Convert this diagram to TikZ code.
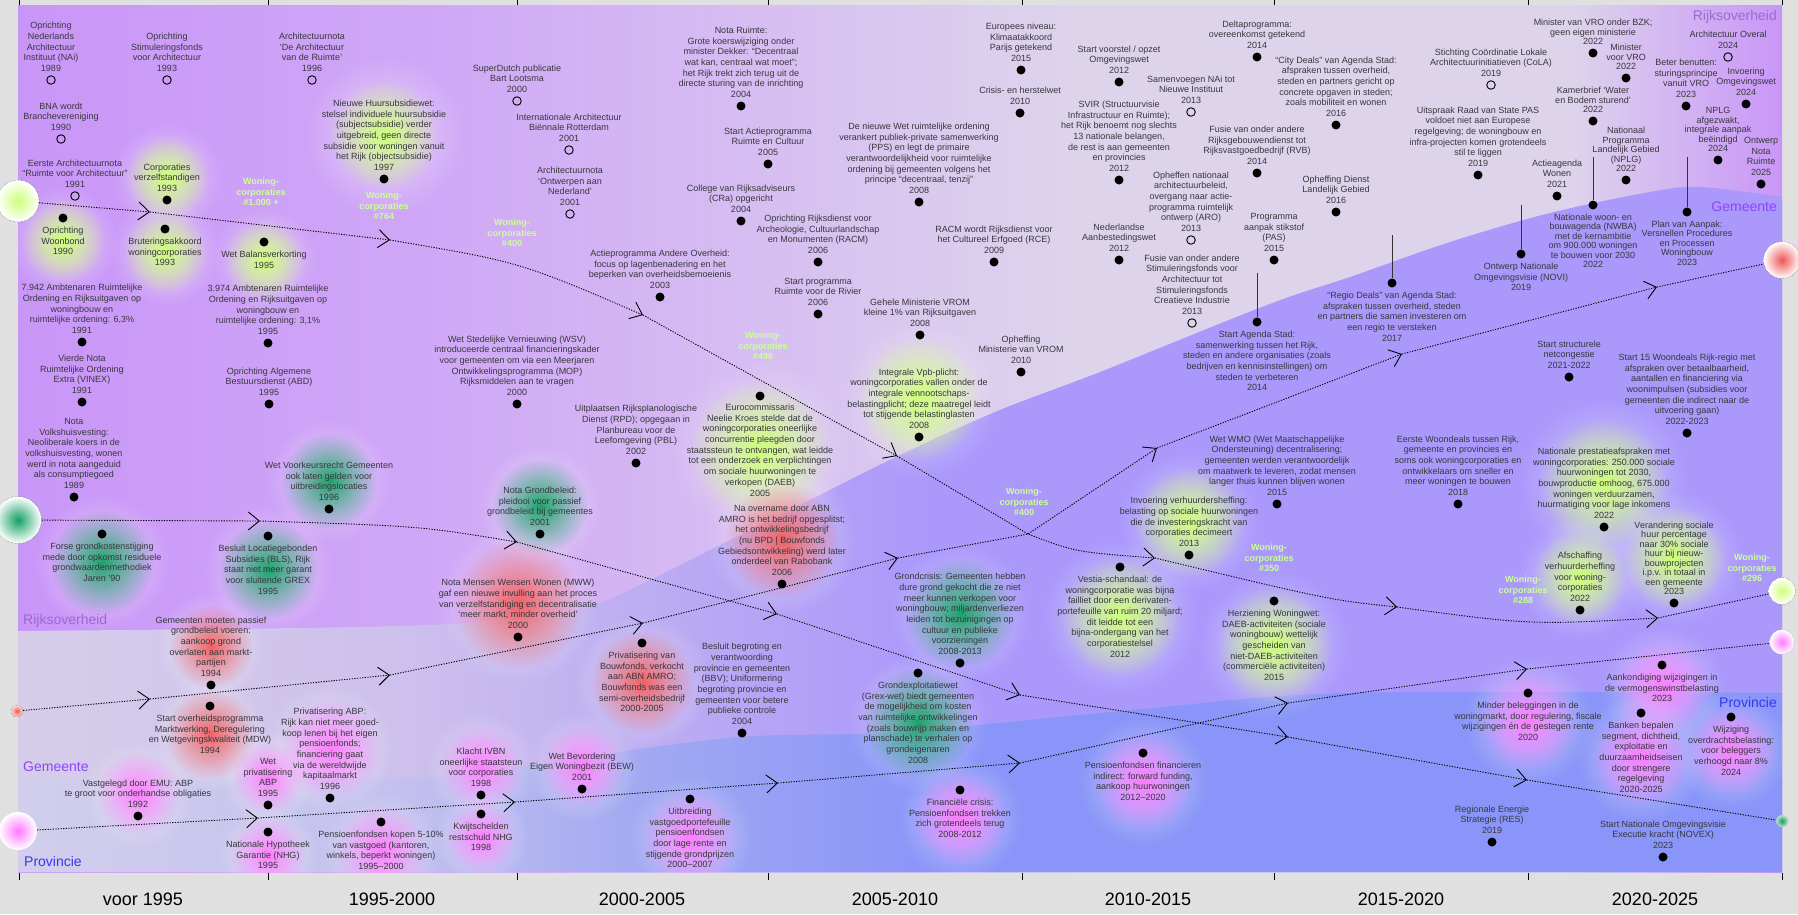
\documentclass[tikz,border=0pt]{standalone}
\usepackage{fontspec}
\setmainfont{Liberation Sans}
\usetikzlibrary{positioning,arrows.meta,fadings}

\definecolor{margin}{RGB}{224,224,224}
\definecolor{rijkA}{RGB}{201,150,248}
\definecolor{rijkM}{RGB}{208,168,247}
\definecolor{rijkB}{RGB}{221,212,236}
\definecolor{gemA}{RGB}{214,205,234}
\definecolor{gemM}{RGB}{205,192,236}
\definecolor{gemB}{RGB}{188,172,242}
\definecolor{gemC}{RGB}{170,152,251}
\definecolor{provA}{RGB}{210,206,236}
\definecolor{provM}{RGB}{195,192,238}
\definecolor{provB}{RGB}{160,168,242}
\definecolor{provC}{RGB}{137,149,248}
\definecolor{evtext}{RGB}{55,55,60}
\definecolor{wcgreen}{RGB}{204,255,153}
\definecolor{lgreen}{RGB}{205,255,120}
\definecolor{ggreen}{RGB}{20,160,100}
\definecolor{mred}{RGB}{240,85,85}
\definecolor{ppink}{RGB}{255,120,255}
\definecolor{rijkcol}{RGB}{155,105,210}
\definecolor{gemcol}{RGB}{140,70,245}
\definecolor{provcol}{RGB}{55,55,240}

\pgfdeclarehorizontalshading{rijkshade}{100bp}{color(0bp)=(rijkA); color(25bp)=(rijkA); color(37bp)=(rijkM); color(55bp)=(rijkB); color(69bp)=(rijkB); color(75bp)=(rijkA); color(100bp)=(rijkA)}
\pgfdeclarehorizontalshading{gemshade}{100bp}{color(0bp)=(gemA); color(25bp)=(gemA); color(36bp)=(gemM); color(43bp)=(gemB); color(51bp)=(gemC); color(100bp)=(gemC)}
\pgfdeclarehorizontalshading{provshade}{100bp}{color(0bp)=(provA); color(25bp)=(provA); color(36bp)=(provM); color(43bp)=(provB); color(51bp)=(provC); color(100bp)=(provC)}

\tikzfading[name=glowfade, inner color=transparent!0, outer color=transparent!100]

\pgfdeclarelayer{bg}
\pgfdeclarelayer{glows}
\pgfdeclarelayer{lanes}
\pgfsetlayers{bg,glows,lanes,main}

\tikzstyle{evbox}=[align=center, inner sep=0pt, text=evtext, font=\fontsize{9}{10.7}\selectfont, text depth=0pt]
\tikzstyle{evtight}=[evbox, font=\fontsize{9}{9.5}\selectfont]
\tikzstyle{wclabel}=[align=center, inner sep=0pt, text=wcgreen, font=\bfseries\fontsize{9}{10.7}\selectfont]
\tikzstyle{fdot}=[circle, fill=black, inner sep=0pt, minimum size=9pt]
\tikzstyle{odot}=[circle, draw=black, line width=0.9pt, inner sep=0pt, minimum size=8.5pt]
\tikzstyle{lanelab}=[inner sep=0pt, font=\fontsize{14}{14}\selectfont]
\tikzstyle{period}=[inner sep=0pt, text=black, font=\fontsize{18}{18}\selectfont]
\tikzstyle{lanecirc}=[circle, inner sep=0pt, draw=black!75, densely dotted, thin]
\tikzstyle{eline}=[line width=0.9pt, dash pattern=on 1.2pt off 1.4pt]
\tikzstyle{chev}=[-{Straight Barb[length=11pt,width=18pt,line width=0.9pt]}]
\tikzstyle{pinline}=[-, line width=0.9pt, black!80]
\tikzstyle{tick}=[-, line width=0.9pt, black]
\tikzstyle{halo}=[fill=white, fill opacity=0.5, path fading=glowfade]
\tikzstyle{glowlg}=[fill=lgreen, path fading=glowfade]
\tikzstyle{glowgr}=[fill=ggreen, fill opacity=0.95, path fading=glowfade]
\tikzstyle{glowrd}=[fill=mred, fill opacity=0.9, path fading=glowfade]
\tikzstyle{glowpk}=[fill=ppink, fill opacity=0.95, path fading=glowfade]

\begin{document}
\begin{tikzpicture}[x=1pt, y=-1pt]
\useasboundingbox (0,0) rectangle (1798,914);

\begin{pgfonlayer}{bg}
\fill[margin] (0,0) rectangle (1798,914);
\shade[shading=rijkshade] (18,5) rectangle (1782,872);
\shade[shading=gemshade] plot[smooth, tension=0.55] coordinates {(18,631) (300,628) (450,624) (530,616) (600,603) (750,530) (900,455) (1000,410) (1100,372) (1267,305) (1350,277) (1450,242) (1550,213) (1650,192) (1700,187) (1782,197)} -- (1782,872) -- (18,872) -- cycle;
\shade[shading=provshade] plot[smooth, tension=0.55] coordinates {(18,780) (400,778) (480,772) (583,757) (740,737) (900,732) (1133,710) (1350,693) (1782,693)} -- (1782,872) -- (18,872) -- cycle;
\draw[tick] (19,0) -- (19,5) (268,0) -- (268,5) (517,0) -- (517,5) (768,0) -- (768,5) (1022,0) -- (1022,5) (1274,0) -- (1274,5) (1528,0) -- (1528,5) (1782,0) -- (1782,5);
\draw[tick] (19,873) -- (19,880) (268,873) -- (268,880) (517,873) -- (517,880) (768,873) -- (768,880) (1022,873) -- (1022,880) (1274,873) -- (1274,880) (1528,873) -- (1528,880) (1782,873) -- (1782,880);
\end{pgfonlayer}

\node (PER1) [period] at (143,899) {voor 1995};
\node (PER2) [period] at (392,899) {1995-2000};
\node (PER3) [period] at (642,899) {2000-2005};
\node (PER4) [period] at (895,899) {2005-2010};
\node (PER5) [period] at (1148,899) {2010-2015};
\node (PER6) [period] at (1401,899) {2015-2020};
\node (PER7) [period] at (1655,899) {2020-2025};

\node (RIJKL) [lanelab, text=rijkcol, anchor=west] at (23,621) {Rijksoverheid};
\node (GEML) [lanelab, text=gemcol, anchor=west] at (23,767) {Gemeente};
\node (PROVL) [lanelab, text=provcol, anchor=west] at (24,861) {Provincie};
\node (RIJKR) [lanelab, text=rijkcol, anchor=east] at (1777,17) {Rijksoverheid};
\node (GEMR) [lanelab, text=gemcol, anchor=east] at (1777,207) {Gemeente};
\node (PROVR) [lanelab, text=provcol, anchor=east] at (1777,702) {Provincie};

% voor 1995 / 1995-2000
\node (NAI) [odot] at (51,80) {};
\node (NAIt) [evbox, above=3.5pt of NAI] {Oprichting\\Nederlands\\Architectuur\\Instituut (NAi)\\1989};
\node (SFA) [odot] at (167,80) {};
\node (SFAt) [evbox, above=3.5pt of SFA] {Oprichting\\Stimuleringsfonds\\voor Architectuur\\1993};
\node (AN96) [odot] at (312,80) {};
\node (AN96t) [evbox, above=3.5pt of AN96] {Architectuurnota\\‘De Architectuur\\van de Ruimte’\\1996};
\node (BNA) [odot] at (61,139) {};
\node (BNAt) [evbox, above=3.5pt of BNA] {BNA wordt\\Branchevereniging\\1990};
\node (AN91) [odot] at (75,196) {};
\node (AN91t) [evbox, above=3.5pt of AN91] {Eerste Architectuurnota\\“Ruimte voor Architectuur”\\1991};
\node (CVZ) [fdot] at (167,200) {};
\node (CVZt) [evbox, above=3.5pt of CVZ] {Corporaties\\verzelfstandigen\\1993};
\node (WBOND) [fdot] at (63,218) {};
\node (WBONDt) [evbox, below=4pt of WBOND] {Oprichting\\Woonbond\\1990};
\node (BRUT) [fdot] at (165,229) {};
\node (BRUTt) [evbox, below=4pt of BRUT] {Bruteringsakkoord\\woningcorporaties\\1993};
\node (BALANS) [fdot] at (264,242) {};
\node (BALANSt) [evbox, below=4pt of BALANS] {Wet Balansverkorting\\1995};
\node (HSW) [fdot] at (384,179) {};
\node (HSWt) [evbox, above=3.5pt of HSW] {Nieuwe Huursubsidiewet:\\stelsel individuele huursubsidie\\(subjectsubsidie) verder\\uitgebreid, geen directe\\subsidie voor woningen vanuit\\het Rijk (objectsubsidie)\\1997};
\node (AMB91) [fdot] at (82,342) {};
\node (AMB91t) [evbox, above=3.5pt of AMB91] {7.942 Ambtenaren Ruimtelijke\\Ordening en Rijksuitgaven op\\woningbouw en\\ruimtelijke ordening: 6,3\%\\1991};
\node (AMB95) [fdot] at (268,343) {};
\node (AMB95t) [evbox, above=3.5pt of AMB95] {3.974 Ambtenaren Ruimtelijke\\Ordening en Rijksuitgaven op\\woningbouw en\\ruimtelijke ordening: 3,1\%\\1995};
\node (VINEX) [fdot] at (82,402) {};
\node (VINEXt) [evbox, above=3.5pt of VINEX] {Vierde Nota\\Ruimtelijke Ordening\\Extra (VINEX)\\1991};
\node (ABD) [fdot] at (269,404) {};
\node (ABDt) [evbox, above=3.5pt of ABD] {Oprichting Algemene\\Bestuursdienst (ABD)\\1995};
\node (NVH) [fdot] at (74,497) {};
\node (NVHt) [evbox, above=3.5pt of NVH] {Nota\\Volkshuisvesting:\\Neoliberale koers in de\\volkshuisvesting, wonen\\werd in nota aangeduid\\als consumptiegoed\\1989};
\node (GKS) [fdot] at (102,534) {};
\node (GKSt) [evbox, below=4pt of GKS] {Forse grondkostenstijging\\mede door opkomst residuele\\grondwaardenmethodiek\\Jaren ’90};
\node (WVG) [fdot] at (329,509) {};
\node (WVGt) [evbox, above=3.5pt of WVG] {Wet Voorkeursrecht Gemeenten\\ook laten gelden voor\\uitbreidingslocaties\\1996};
\node (BLS) [fdot] at (268,536) {};
\node (BLSt) [evbox, below=4pt of BLS] {Besluit Locatiegebonden\\Subsidies (BLS), Rijk\\staat niet meer garant\\voor sluitende GREX\\1995};
\node (PASSIEF) [fdot] at (211,685) {};
\node (PASSIEFt) [evbox, above=3.5pt of PASSIEF] {Gemeenten moeten passief\\grondbeleid voeren:\\aankoop grond\\overlaten aan markt-\\partijen\\1994};
\node (MDW) [fdot] at (210,706) {};
\node (MDWt) [evbox, below=4pt of MDW] {Start overheidsprogramma\\Marktwerking, Deregulering\\en Wetgevingskwaliteit (MDW)\\1994};
\node (EMU) [fdot] at (138,816) {};
\node (EMUt) [evbox, above=3.5pt of EMU] {Vastgelegd door EMU: ABP\\te groot voor onderhandse obligaties\\1992};
\node (WPABP) [fdot] at (268,805) {};
\node (WPABPt) [evbox, above=3.5pt of WPABP] {Wet\\privatisering\\ABP\\1995};
\node (PABP) [fdot] at (330,798) {};
\node (PABPt) [evbox, above=3.5pt of PABP] {Privatisering ABP:\\Rijk kan niet meer goed-\\koop lenen bij het eigen\\pensioenfonds;\\financiering gaat\\via de wereldwijde\\kapitaalmarkt\\1996};
\node (NHG) [fdot] at (268,832) {};
\node (NHGt) [evbox, below=4pt of NHG] {Nationale Hypotheek\\Garantie (NHG)\\1995};
\node (PFK) [fdot] at (381,822) {};
\node (PFKt) [evbox, below=4pt of PFK] {Pensioenfondsen kopen 5-10\%\\van vastgoed (kantoren,\\winkels, beperkt woningen)\\1995–2000};
\node (IVBN) [fdot] at (481,795) {};
\node (IVBNt) [evbox, above=3.5pt of IVBN] {Klacht IVBN\\oneerlijke staatsteun\\voor corporaties\\1998};
\node (NHG98) [fdot] at (481,814) {};
\node (NHG98t) [evbox, below=4pt of NHG98] {Kwijtschelden\\restschuld NHG\\1998};

% 2000-2005 / 2005-2010
\node (SDUTCH) [odot] at (517,101) {};
\node (SDUTCHt) [evbox, above=3.5pt of SDUTCH] {SuperDutch publicatie\\Bart Lootsma\\2000};
\node (IAB) [odot] at (569,150) {};
\node (IABt) [evbox, above=3.5pt of IAB] {Internationale Architectuur\\Biënnale Rotterdam\\2001};
\node (AN01) [odot] at (570,214) {};
\node (AN01t) [evbox, above=3.5pt of AN01] {Architectuurnota\\‘Ontwerpen aan\\Nederland’\\2001};
\node (NRUIMTE) [fdot] at (741,106) {};
\node (NRUIMTEt) [evbox, above=3.5pt of NRUIMTE] {Nota Ruimte:\\Grote koerswijziging onder\\minister Dekker: “Decentraal\\wat kan, centraal wat moet”;\\het Rijk trekt zich terug uit de\\directe sturing van de inrichting\\2004};
\node (ARC) [fdot] at (768,164) {};
\node (ARCt) [evbox, above=3.5pt of ARC] {Start Actieprogramma\\Ruimte en Cultuur\\2005};
\node (CRA) [fdot] at (741,221) {};
\node (CRAt) [evbox, above=3.5pt of CRA] {College van Rijksadviseurs\\(CRa) opgericht\\2004};
\node (RACM) [fdot] at (818,262) {};
\node (RACMt) [evbox, above=3.5pt of RACM] {Oprichting Rijksdienst voor\\Archeologie, Cultuurlandschap\\en Monumenten (RACM)\\2006};
\node (AAO) [fdot] at (660,297) {};
\node (AAOt) [evbox, above=3.5pt of AAO] {Actieprogramma Andere Overheid:\\focus op lagenbenadering en het\\beperken van overheidsbemoeienis\\2003};
\node (RVR) [fdot] at (818,314) {};
\node (RVRt) [evbox, above=3.5pt of RVR] {Start programma\\Ruimte voor de Rivier\\2006};
\node (WRO) [fdot] at (919,202) {};
\node (WROt) [evbox, above=3.5pt of WRO] {De nieuwe Wet ruimtelijke ordening\\verankert publiek-private samenwerking\\(PPS) en legt de primaire\\verantwoordelijkheid voor ruimtelijke\\ordening bij gemeenten volgens het\\principe “decentraal, tenzij”\\2008};
\node (VROM1) [fdot] at (920,335) {};
\node (VROM1t) [evbox, above=3.5pt of VROM1] {Gehele Ministerie VROM\\kleine 1\% van Rijksuitgaven\\2008};
\node (WSV) [fdot] at (517,404) {};
\node (WSVt) [evbox, above=3.5pt of WSV] {Wet Stedelijke Vernieuwing (WSV)\\introduceerde centraal financieringskader\\voor gemeenten om via een Meerjaren\\Ontwikkelingsprogramma (MOP)\\Rijksmiddelen aan te vragen\\2000};
\node (RPD) [fdot] at (636,463) {};
\node (RPDt) [evbox, above=3.5pt of RPD] {Uitplaatsen Rijksplanologische\\Dienst (RPD); opgegaan in\\Planbureau voor de\\Leefomgeving (PBL)\\2002};
\node (KROES) [fdot] at (760,396) {};
\node (KROESt) [evbox, below=3pt of KROES] {Eurocommissaris\\Neelie Kroes stelde dat de\\woningcorporaties oneerlijke\\concurrentie pleegden door\\staatssteun te ontvangen, wat leidde\\tot een onderzoek en verplichtingen\\om sociale huurwoningen te\\verkopen (DAEB)\\2005};
\node (VPB) [fdot] at (919,437) {};
\node (VPBt) [evbox, above=3.5pt of VPB] {Integrale Vpb-plicht:\\woningcorporaties vallen onder de\\integrale vennootschaps-\\belastingplicht; deze maatregel leidt\\tot stijgende belastinglasten\\2008};
\node (ABNAMRO) [fdot] at (782,584) {};
\node (ABNAMROt) [evbox, above=3.5pt of ABNAMRO] {Na overname door ABN\\AMRO is het bedrijf opgesplitst;\\het ontwikkelingsbedrijf\\(nu BPD | Bouwfonds\\Gebiedsontwikkeling) werd later\\onderdeel van Rabobank\\2006};
\node (NGB) [fdot] at (540,534) {};
\node (NGBt) [evbox, above=3.5pt of NGB] {Nota Grondbeleid:\\pleidooi voor passief\\grondbeleid bij gemeentes\\2001};
\node (MWW) [fdot] at (518,637) {};
\node (MWWt) [evbox, above=3.5pt of MWW] {Nota Mensen Wensen Wonen (MWW)\\gaf een nieuwe invulling aan het proces\\van verzelfstandiging en decentralisatie\\‘meer markt, minder overheid’\\2000};
\node (BEW) [fdot] at (582,789) {};
\node (BEWt) [evbox, above=3.5pt of BEW] {Wet Bevordering\\Eigen Woningbezit (BEW)\\2001};
\node (BOUWF) [fdot] at (642,643) {};
\node (BOUWFt) [evbox, below=4pt of BOUWF] {Privatisering van\\Bouwfonds, verkocht\\aan ABN AMRO;\\Bouwfonds was een\\semi-overheidsbedrijf\\2000-2005};
\node (BBV) [fdot] at (742,733) {};
\node (BBVt) [evbox, above=3.5pt of BBV] {Besluit begroting en\\verantwoording\\provincie en gemeenten\\(BBV); Uniformering\\begroting provincie en\\gemeenten voor betere\\publieke controle\\2004};
\node (UVP) [fdot] at (690,799) {};
\node (UVPt) [evbox, below=4pt of UVP] {Uitbreiding\\vastgoedportefeuille\\pensioenfondsen\\door lage rente en\\stijgende grondprijzen\\2000–2007};
\node (GCRISIS) [fdot] at (960,663) {};
\node (GCRISISt) [evbox, above=3.5pt of GCRISIS] {Grondcrisis: Gemeenten hebben\\dure grond gekocht die ze niet\\meer kunnen verkopen voor\\woningbouw; miljardenverliezen\\leiden tot bezuinigingen op\\cultuur en publieke\\voorzieningen\\2008-2013};
\node (GREX) [fdot] at (918,673) {};
\node (GREXt) [evbox, below=4pt of GREX] {Grondexploitatiewet\\(Grex-wet) biedt gemeenten\\de mogelijkheid om kosten\\van ruimtelijke ontwikkelingen\\(zoals bouwrijp maken en\\planschade) te verhalen op\\grondeigenaren\\2008};
\node (FCRISIS) [fdot] at (960,790) {};
\node (FCRISISt) [evbox, below=4pt of FCRISIS] {Financiële crisis:\\Pensioenfondsen trekken\\zich grotendeels terug\\2008-2012};

% 2010-2015 / 2015-2020
\node (KLIMA) [fdot] at (1021,70) {};
\node (KLIMAt) [evbox, above=3.5pt of KLIMA] {Europees niveau:\\Klimaatakkoord\\Parijs getekend\\2015};
\node (CHW) [fdot] at (1020,113) {};
\node (CHWt) [evbox, above=3.5pt of CHW] {Crisis- en herstelwet\\2010};
\node (OMGW) [fdot] at (1119,82) {};
\node (OMGWt) [evbox, above=3.5pt of OMGW] {Start voorstel / opzet\\Omgevingswet\\2012};
\node (HNI) [odot] at (1191,112) {};
\node (HNIt) [evbox, above=3.5pt of HNI] {Samenvoegen NAi tot\\Nieuwe Instituut\\2013};
\node (SVIR) [fdot] at (1119,180) {};
\node (SVIRt) [evbox, above=3.5pt of SVIR] {SVIR (Structuurvisie\\Infrastructuur en Ruimte);\\het Rijk benoemt nog slechts\\13 nationale belangen,\\de rest is aan gemeenten\\en provincies\\2012};
\node (DELTA) [fdot] at (1257,57) {};
\node (DELTAt) [evbox, above=3.5pt of DELTA] {Deltaprogramma:\\overeenkomst getekend\\2014};
\node (CITY) [fdot] at (1336,125) {};
\node (CITYt) [evbox, above=3.5pt of CITY] {“City Deals” van Agenda Stad:\\afspraken tussen overheid,\\steden en partners gericht op\\concrete opgaven in steden;\\zoals mobiliteit en wonen\\2016};
\node (RVB) [fdot] at (1257,173) {};
\node (RVBt) [evbox, above=3.5pt of RVB] {Fusie van onder andere\\Rijksgebouwendienst tot\\Rijksvastgoedbedrijf (RVB)\\2014};
\node (ARO) [odot] at (1191,240) {};
\node (AROt) [evbox, above=3.5pt of ARO] {Opheffen nationaal\\architectuurbeleid,\\overgang naar actie-\\programma ruimtelijk\\ontwerp (ARO)\\2013};
\node (DLG) [fdot] at (1336,212) {};
\node (DLGt) [evbox, above=3.5pt of DLG] {Opheffing Dienst\\Landelijk Gebied\\2016};
\node (RCE) [fdot] at (994,262) {};
\node (RCEt) [evbox, above=3.5pt of RCE] {RACM wordt Rijksdienst voor\\het Cultureel Erfgoed (RCE)\\2009};
\node (AANB) [fdot] at (1119,260) {};
\node (AANBt) [evbox, above=3.5pt of AANB] {Nederlandse\\Aanbestedingswet\\2012};
\node (PAS) [fdot] at (1274,260) {};
\node (PASt) [evbox, above=3.5pt of PAS] {Programma\\aanpak stikstof\\(PAS)\\2015};
\node (SCI) [odot] at (1192,323) {};
\node (SCIt) [evbox, above=3.5pt of SCI] {Fusie van onder andere\\Stimuleringsfonds voor\\Architectuur tot\\Stimuleringsfonds\\Creatieve Industrie\\2013};
\node (AGSTAD) [fdot] at (1257,322) {};
\node (AGSTADt) [evbox, below=4pt of AGSTAD] {Start Agenda Stad:\\samenwerking tussen het Rijk,\\steden en andere organisaties (zoals\\bedrijven en kennisinstellingen) om\\steden te verbeteren\\2014};
\node (OVROM) [fdot] at (1021,372) {};
\node (OVROMt) [evbox, above=3.5pt of OVROM] {Opheffing\\Ministerie van VROM\\2010};
\node (WMO) [fdot] at (1277,504) {};
\node (WMOt) [evbox, above=3.5pt of WMO] {Wet WMO (Wet Maatschappelijke\\Ondersteuning) decentralisering;\\gemeenten werden verantwoordelijk\\om maatwerk te leveren, zodat mensen\\langer thuis kunnen blijven wonen\\2015};
\node (VHH) [fdot] at (1189,555) {};
\node (VHHt) [evbox, above=3.5pt of VHH] {Invoering verhuurdersheffing:\\belasting op sociale huurwoningen\\die de investeringskracht van\\corporaties decimeert\\2013};
\node (VESTIA) [fdot] at (1120,567) {};
\node (VESTIAt) [evbox, below=4pt of VESTIA] {Vestia-schandaal: de\\woningcorporatie was bijna\\failliet door een derivaten-\\portefeuille van ruim 20 miljard;\\dit leidde tot een\\bijna-ondergang van het\\corporatiestelsel\\2012};
\node (HZWW) [fdot] at (1274,601) {};
\node (HZWWt) [evbox, below=4pt of HZWW] {Herziening Woningwet:\\DAEB-activiteiten (sociale\\woningbouw) wettelijk\\gescheiden van\\niet-DAEB-activiteiten\\(commerciële activiteiten)\\2015};
\node (PFF) [fdot] at (1143,753) {};
\node (PFFt) [evbox, below=4pt of PFF] {Pensioenfondsen financieren\\indirect: forward funding,\\aankoop huurwoningen\\2012–2020};

% 2015-2020 / 2020-2025
\node (AO24) [odot] at (1728,57) {};
\node (AO24t) [evbox, above=3.5pt of AO24] {Architectuur Overal\\2024};
\node (VROBZK) [fdot] at (1593,53) {};
\node (VROBZKt) [evtight, above=3.5pt of VROBZK] {Minister van VRO onder BZK;\\geen eigen ministerie\\2022};
\node (MVRO) [fdot] at (1626,78) {};
\node (MVROt) [evtight, above=3.5pt of MVRO] {Minister\\voor VRO\\2022};
\node (COLA) [odot] at (1491,85) {};
\node (COLAt) [evbox, above=3.5pt of COLA] {Stichting Coördinatie Lokale\\Architectuurinitiatieven (CoLA)\\2019};
\node (BETER) [fdot] at (1686,106) {};
\node (BETERt) [evbox, above=3.5pt of BETER] {Beter benutten:\\sturingsprincipe\\vanuit VRO\\2023};
\node (OMGW24) [fdot] at (1746,104) {};
\node (OMGW24t) [evbox, above=3.5pt of OMGW24] {Invoering\\Omgevingswet\\2024};
\node (KAMER) [fdot] at (1593,121) {};
\node (KAMERt) [evtight, above=3.5pt of KAMER] {Kamerbrief ‘Water\\en Bodem sturend’\\2022};
\node (RVSPAS) [fdot] at (1478,175) {};
\node (RVSPASt) [evbox, above=3.5pt of RVSPAS] {Uitspraak Raad van State PAS\\voldoet niet aan Europese\\regelgeving; de woningbouw en\\infra-projecten komen grotendeels\\stil te liggen\\2019};
\node (NPLG24) [fdot] at (1718,160) {};
\node (NPLG24t) [evtight, above=3.5pt of NPLG24] {NPLG\\afgezwakt,\\integrale aanpak\\beëindigd\\2024};
\node (NPLG) [fdot] at (1626,180) {};
\node (NPLGt) [evtight, above=3.5pt of NPLG] {Nationaal\\Programma\\Landelijk Gebied\\(NPLG)\\2022};
\node (NNR) [fdot] at (1761,184) {};
\node (NNRt) [evbox, above=3.5pt of NNR] {Ontwerp\\Nota\\Ruimte\\2025};
\node (AAW) [fdot] at (1557,196) {};
\node (AAWt) [evbox, above=3.5pt of AAW] {Actieagenda\\Wonen\\2021};
\node (NWBA) [fdot] at (1593,205) {};
\node (NWBAt) [evtight, below=4pt of NWBA] {Nationale woon- en\\bouwagenda (NWBA)\\met de kernambitie\\om 900.000 woningen\\te bouwen voor 2030\\2022};
\node (PVA) [fdot] at (1687,212) {};
\node (PVAt) [evtight, below=4pt of PVA] {Plan van Aanpak:\\Versnellen Procedures\\en Processen\\Woningbouw\\2023};
\node (NOVI) [fdot] at (1521,254) {};
\node (NOVIt) [evbox, below=4pt of NOVI] {Ontwerp Nationale\\Omgevingsvisie (NOVI)\\2019};
\node (REGIO) [fdot] at (1392,283) {};
\node (REGIOt) [evbox, below=4pt of REGIO] {“Regio Deals” van Agenda Stad:\\afspraken tussen overheid, steden\\en partners die samen investeren om\\een regio te versteken\\2017};
\node (NETC) [fdot] at (1569,377) {};
\node (NETCt) [evbox, above=3.5pt of NETC] {Start structurele\\netcongestie\\2021-2022};
\node (WD15) [fdot] at (1687,433) {};
\node (WD15t) [evbox, above=3.5pt of WD15] {Start 15 Woondeals Rijk-regio met\\afspraken over betaalbaarheid,\\aantallen en financiering via\\woonimpulsen (subsidies voor\\gemeenten die indirect naar de\\uitvoering gaan)\\2022-2023};
\node (WD18) [fdot] at (1458,504) {};
\node (WD18t) [evbox, above=3.5pt of WD18] {Eerste Woondeals tussen Rijk,\\gemeente en provincies en\\soms ook woningcorporaties en\\ontwikkelaars om sneller en\\meer woningen te bouwen\\2018};
\node (NPA) [fdot] at (1604,527) {};
\node (NPAt) [evbox, above=3.5pt of NPA] {Nationale prestatieafspraken met\\woningcorporaties: 250.000 sociale\\huurwoningen tot 2030,\\bouwproductie omhoog, 675.000\\woningen verduurzamen,\\huurmatiging voor lage inkomens\\2022};
\node (SHP) [fdot] at (1674,603) {};
\node (SHPt) [evtight, above=3.5pt of SHP] {Verandering sociale\\huur percentage\\naar 30\% sociale\\huur bij nieuw-\\bouwprojecten\\i.p.v. in totaal in\\een gemeente\\2023};
\node (AFVH) [fdot] at (1580,610) {};
\node (AFVHt) [evbox, above=3.5pt of AFVH] {Afschaffing\\verhuurderheffing\\voor woning-\\corporaties\\2022};
\node (VWB) [fdot] at (1662,665) {};
\node (VWBt) [evbox, below=4pt of VWB] {Aankondiging wijzigingen in\\de vermogenswinstbelasting\\2023};
\node (MBW) [fdot] at (1528,693) {};
\node (MBWt) [evbox, below=4pt of MBW] {Minder beleggingen in de\\woningmarkt, door regulering, fiscale\\wijzigingen én de gestegen rente\\2020};
\node (BANK) [fdot] at (1641,713) {};
\node (BANKt) [evbox, below=4pt of BANK] {Banken bepalen\\segment, dichtheid,\\exploitatie en\\duurzaamheidseisen\\door strengere\\regelgeving\\2020-2025};
\node (ODB) [fdot] at (1731,717) {};
\node (ODBt) [evbox, below=4pt of ODB] {Wijziging\\overdrachtsbelasting:\\voor beleggers\\verhoogd naar 8\%\\2024};
\node (RES) [fdot] at (1492,842) {};
\node (RESt) [evbox, above=3.5pt of RES] {Regionale Energie\\Strategie (RES)\\2019};
\node (NOVEX) [fdot] at (1663,857) {};
\node (NOVEXt) [evbox, above=3.5pt of NOVEX] {Start Nationale Omgevingsvisie\\Executie kracht (NOVEX)\\2023};

% aantallen woningcorporaties
\node (WC1) [wclabel] at (261,192) {Woning-\\corporaties\\\#1.000 +};
\node (WC2) [wclabel] at (384,206) {Woning-\\corporaties\\\#764};
\node (WC3) [wclabel] at (512,233) {Woning-\\corporaties\\\#400};
\node (WC4) [wclabel] at (763,346) {Woning-\\corporaties\\\#496};
\node (WC5) [wclabel] at (1024,502) {Woning-\\corporaties\\\#400};
\node (WC6) [wclabel] at (1269,558) {Woning-\\corporaties\\\#350};
\node (WC7) [wclabel] at (1523,590) {Woning-\\corporaties\\\#288};
\node (WC8) [wclabel] at (1752,568) {Woning-\\corporaties\\\#296};

% begin- en eindpunten lijnen
\node (WCL) [lanecirc, minimum size=42pt, inner color=lgreen, outer color=white] at (18,201) {};
\node (GRL) [lanecirc, minimum size=47pt, inner color=ggreen, outer color=white] at (18,520) {};
\node (MKL) [lanecirc, minimum size=12pt, inner color=mred, outer color=white!80!mred] at (17,711) {};
\node (PFL) [lanecirc, draw=none, minimum size=38pt, inner color=ppink, outer color=white] at (18,831) {};
\node (MKR) [lanecirc, minimum size=37pt, inner color=mred, outer color=white] at (1782,260) {};
\node (WCR) [lanecirc, minimum size=27pt, inner color=lgreen, outer color=white] at (1782,591) {};
\node (PFR) [lanecirc, draw=black!45, minimum size=25pt, inner color=ppink, outer color=white] at (1782,642) {};
\node (GRR) [lanecirc, draw=black!35, minimum size=12pt, inner color=ggreen, outer color=white!70!ggreen] at (1782,821) {};

\begin{pgfonlayer}{glows}
\begin{scope}
\clip (18,5) rectangle (1782,872);
\fill[halo] (CVZt) circle (55pt); \fill[glowlg] (CVZt) circle (42pt);
\fill[halo] (WBONDt) circle (55pt); \fill[glowlg] (WBONDt) circle (42pt);
\fill[halo] (BRUTt) circle (55pt); \fill[glowlg] (BRUTt) circle (42pt);
\fill[halo] (BALANSt) circle (52pt); \fill[glowlg] (BALANSt) circle (40pt);
\fill[halo] (HSWt) circle (80pt); \fill[glowlg] (HSWt) circle (55pt);
\fill[halo] (KROESt) circle (90pt); \fill[glowlg] (KROESt) circle (70pt);
\fill[halo] (VPBt) circle (80pt); \fill[glowlg] (VPBt) circle (62pt);
\fill[halo] (VHHt) circle (70pt); \fill[glowlg] (VHHt) circle (55pt);
\fill[halo] (VESTIAt) circle (78pt); \fill[glowlg] (VESTIAt) circle (60pt);
\fill[halo] (HZWWt) circle (75pt); \fill[glowlg] (HZWWt) circle (58pt);
\fill[halo] (NPAt) circle (85pt); \fill[glowlg] (NPAt) circle (65pt);
\fill[halo] (SHPt) circle (68pt); \fill[glowlg] (SHPt) circle (52pt);
\fill[halo] (AFVHt) circle (62pt); \fill[glowlg] (AFVHt) circle (48pt);
\fill[halo] (GKSt) circle (68pt); \fill[glowgr] (GKSt) circle (52pt);
\fill[halo] (WVGt) circle (62pt); \fill[glowgr] (WVGt) circle (48pt);
\fill[halo] (BLSt) circle (65pt); \fill[glowgr] (BLSt) circle (50pt);
\fill[halo] (NGBt) circle (62pt); \fill[glowgr] (NGBt) circle (48pt);
\fill[halo] (GCRISISt) circle (70pt); \fill[glowgr] (GCRISISt) circle (55pt);
\fill[halo] (GREXt) circle (70pt); \fill[glowgr] (GREXt) circle (55pt);
\fill[halo] (ABNAMROt) circle (75pt); \fill[glowrd] (ABNAMROt) circle (58pt);
\fill[halo] (MWWt) circle (80pt); \fill[glowrd] (MWWt) circle (65pt);
\fill[halo] (PASSIEFt) circle (55pt); \fill[glowrd] (PASSIEFt) circle (42pt);
\fill[halo] (MDWt) circle (58pt); \fill[glowrd] (MDWt) circle (45pt);
\fill[halo] (BOUWFt) circle (68pt); \fill[glowrd] (BOUWFt) circle (52pt);
\fill[halo] (EMUt) circle (55pt); \fill[glowpk] (EMUt) circle (42pt);
\fill[halo] (WPABPt) circle (48pt); \fill[glowpk] (WPABPt) circle (36pt);
\fill[halo] (PABPt) circle (65pt); \fill[glowpk] (PABPt) circle (50pt);
\fill[halo] (NHGt) circle (50pt); \fill[glowpk] (NHGt) circle (38pt);
\fill[halo] (PFKt) circle (58pt); \fill[glowpk] (PFKt) circle (45pt);
\fill[halo] (IVBNt) circle (55pt); \fill[glowpk] (IVBNt) circle (42pt);
\fill[halo] (NHG98t) circle (48pt); \fill[glowpk] (NHG98t) circle (36pt);
\fill[halo] (BEWt) circle (55pt); \fill[glowpk] (BEWt) circle (42pt);
\fill[halo] (UVPt) circle (62pt); \fill[glowpk] (UVPt) circle (48pt);
\fill[halo] (FCRISISt) circle (62pt); \fill[glowpk] (FCRISISt) circle (48pt);
\fill[halo] (PFFt) circle (65pt); \fill[glowpk] (PFFt) circle (50pt);
\fill[halo] (VWBt) circle (62pt); \fill[glowpk] (VWBt) circle (48pt);
\fill[halo] (MBWt) circle (65pt); \fill[glowpk] (MBWt) circle (50pt);
\fill[halo] (BANKt) circle (65pt); \fill[glowpk] (BANKt) circle (50pt);
\fill[halo] (ODBt) circle (58pt); \fill[glowpk] (ODBt) circle (45pt);
\end{scope}
\end{pgfonlayer}

\begin{pgfonlayer}{lanes}
\coordinate (wc1) at (150,212);
\coordinate (wc2) at (390,240);
\coordinate (wc3) at (643,315);
\coordinate (wc4) at (897,456);
\coordinate (wc5) at (1155,558);
\coordinate (wc6) at (1397,607);
\coordinate (wc7) at (1658,618);
\coordinate (gr1) at (260,521);
\coordinate (gr2) at (517,542);
\coordinate (gr3) at (777,614);
\coordinate (gr4) at (1020,695);
\coordinate (gr5) at (1288,737);
\coordinate (gr6) at (1527,780);
\coordinate (mk1) at (150,699);
\coordinate (mk2) at (390,675);
\coordinate (mk3) at (643,623);
\coordinate (mk4) at (898,558);
\coordinate (mk5) at (1157,448);
\coordinate (mk6) at (1402,354);
\coordinate (mk7) at (1657,287);
\coordinate (pf1) at (258,818);
\coordinate (pf2) at (515,802);
\coordinate (pf3) at (778,783);
\coordinate (pf4) at (1020,763);
\coordinate (pf5) at (1288,703);
\coordinate (pf6) at (1527,669);
\coordinate (xAC) at (1028,534);

\draw[eline, chev] (WCL) -- (wc1);
\draw[eline, chev] (wc1) -- (wc2);
\draw[eline, chev] (wc2) .. controls (520,262) .. (wc3);
\draw[eline, chev] (wc3) -- (wc4);
\draw[eline, chev] (wc4) -- (xAC) .. controls (1075,552) .. (wc5);
\draw[eline, chev] (wc5) .. controls (1330,600) .. (wc6);
\draw[eline, chev] (wc6) .. controls (1530,625) .. (wc7);
\draw[eline] (wc7) -- (WCR);

\draw[eline, chev] (GRL) -- (gr1);
\draw[eline, chev] (gr1) .. controls (420,526) .. (gr2);
\draw[eline, chev] (gr2) -- (gr3);
\draw[eline, chev] (gr3) -- (gr4);
\draw[eline, chev] (gr4) -- (gr5);
\draw[eline, chev] (gr5) -- (gr6);
\draw[eline] (gr6) -- (GRR);

\draw[eline, chev] (MKL) -- (mk1);
\draw[eline, chev] (mk1) -- (mk2);
\draw[eline, chev] (mk2) -- (mk3);
\draw[eline, chev] (mk3) -- (mk4);
\draw[eline, chev] (mk4) -- (xAC) -- (mk5);
\draw[eline, chev] (mk5) -- (mk6);
\draw[eline, chev] (mk6) -- (mk7);
\draw[eline] (mk7) -- (MKR);

\draw[eline, chev] (PFL) -- (pf1);
\draw[eline, chev] (pf1) -- (pf2);
\draw[eline, chev] (pf2) -- (pf3);
\draw[eline, chev] (pf3) -- (pf4);
\draw[eline, chev] (pf4) -- (pf5);
\draw[eline, chev] (pf5) -- (pf6);
\draw[eline] (pf6) -- (PFR);

\coordinate (AGSTADp) at (1257,273);
\coordinate (REGIOp) at (1392,235);
\coordinate (NOVIp) at (1521,205);
\coordinate (NWBAp) at (1593,157);
\coordinate (PVAp) at (1687,157);
\draw[pinline] (AGSTADp) -- (AGSTAD);
\draw[pinline] (REGIOp) -- (REGIO);
\draw[pinline] (NOVIp) -- (NOVI);
\draw[pinline] (NWBAp) -- (NWBA);
\draw[pinline] (PVAp) -- (PVA);
\end{pgfonlayer}

\end{tikzpicture}
\end{document}
